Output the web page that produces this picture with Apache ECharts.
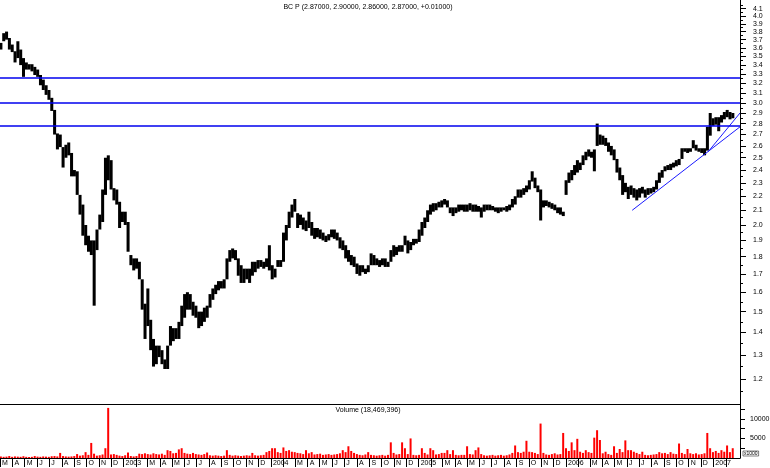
<!DOCTYPE html>
<html><head><meta charset="utf-8">
<script src="https://cdn.jsdelivr.net/npm/echarts@6/dist/echarts.min.js"></script>
<style>html,body{margin:0;padding:0;background:#fff}#c{width:770px;height:468px}</style>
</head><body><div id="c"></div>
<script>
// ---- data (weekly samples) ----
const firstWeek = [2002, 2, 3];          // date of first weekly sample (Y, month0, D)
const axisStart = [2002, 2, 1];
const axisEnd = [2007, 2, 8];
const priceHigh = [3.66,3.78,3.80,3.72,3.64,3.56,3.68,3.58,3.48,3.43,3.41,3.41,3.38,3.35,3.29,3.24,3.18,3.13,3.05,2.93,
2.71,2.70,2.59,2.61,2.63,2.54,2.40,2.39,2.21,2.14,2.00,1.93,1.90,1.90,1.97,2.07,2.25,2.50,2.52,2.48,
2.26,2.25,2.16,2.09,2.09,2.02,1.81,1.79,1.79,1.77,1.67,1.54,1.62,1.46,1.37,1.34,1.34,1.32,1.28,1.34,
1.43,1.42,1.42,1.45,1.53,1.59,1.60,1.59,1.55,1.53,1.50,1.50,1.52,1.53,1.59,1.62,1.64,1.66,1.66,1.67,
1.79,1.84,1.85,1.84,1.79,1.75,1.73,1.73,1.73,1.77,1.77,1.78,1.78,1.77,1.79,1.87,1.75,1.73,1.78,1.78,
1.95,2.00,2.09,2.14,2.18,2.08,2.07,2.05,2.03,2.09,2.02,1.98,1.98,1.97,1.95,1.93,1.94,1.97,1.97,1.95,
1.92,1.90,1.87,1.84,1.81,1.80,1.76,1.75,1.75,1.73,1.75,1.82,1.81,1.79,1.78,1.79,1.79,1.77,1.84,1.87,
1.86,1.87,1.87,1.93,1.90,1.89,1.91,1.91,1.97,2.02,2.05,2.10,2.14,2.15,2.15,2.16,2.17,2.18,2.17,2.12,
2.12,2.12,2.14,2.14,2.14,2.14,2.15,2.14,2.14,2.13,2.12,2.14,2.14,2.14,2.13,2.12,2.12,2.12,2.12,2.13,
2.14,2.18,2.20,2.25,2.25,2.26,2.28,2.32,2.39,2.34,2.28,2.25,2.17,2.17,2.16,2.15,2.14,2.12,2.12,2.09,
2.32,2.38,2.40,2.44,2.48,2.46,2.52,2.55,2.57,2.55,2.57,2.80,2.70,2.69,2.67,2.63,2.60,2.57,2.49,2.42,
2.36,2.30,2.27,2.28,2.26,2.25,2.26,2.27,2.25,2.26,2.26,2.27,2.32,2.38,2.40,2.43,2.44,2.45,2.46,2.48,
2.49,2.58,2.58,2.58,2.58,2.65,2.61,2.58,2.58,2.58,2.77,2.90,2.85,2.86,2.86,2.88,2.91,2.93,2.91,2.90];
const priceLow = [3.58,3.68,3.70,3.58,3.55,3.43,3.48,3.40,3.27,3.35,3.35,3.33,3.29,3.27,3.18,3.13,3.08,3.03,2.92,2.70,
2.57,2.59,2.42,2.50,2.52,2.35,2.35,2.21,2.07,1.93,1.87,1.83,1.81,1.53,1.84,1.97,2.02,2.21,2.32,2.25,
2.17,2.14,1.98,2.02,2.00,1.83,1.75,1.72,1.73,1.67,1.51,1.37,1.43,1.32,1.25,1.26,1.29,1.26,1.24,1.24,
1.34,1.36,1.37,1.37,1.43,1.47,1.51,1.51,1.48,1.47,1.42,1.43,1.45,1.47,1.52,1.56,1.59,1.61,1.62,1.62,
1.67,1.77,1.79,1.78,1.69,1.65,1.65,1.67,1.65,1.69,1.71,1.73,1.74,1.73,1.74,1.72,1.67,1.68,1.74,1.74,
1.77,1.90,1.98,2.05,2.09,1.98,2.00,1.97,1.96,1.98,1.93,1.91,1.92,1.91,1.90,1.89,1.90,1.92,1.91,1.90,
1.85,1.84,1.79,1.77,1.75,1.74,1.70,1.69,1.71,1.70,1.71,1.75,1.75,1.75,1.74,1.75,1.74,1.74,1.77,1.80,
1.81,1.83,1.83,1.87,1.82,1.84,1.87,1.88,1.89,1.93,1.98,2.02,2.07,2.09,2.10,2.12,2.12,2.14,2.12,2.08,
2.06,2.08,2.09,2.10,2.09,2.09,2.10,2.09,2.09,2.09,2.05,2.09,2.10,2.10,2.10,2.09,2.08,2.09,2.10,2.09,
2.10,2.12,2.14,2.19,2.19,2.21,2.23,2.25,2.31,2.26,2.23,2.03,2.12,2.13,2.12,2.11,2.10,2.08,2.07,2.06,
2.21,2.30,2.32,2.36,2.38,2.40,2.44,2.48,2.51,2.50,2.39,2.60,2.61,2.61,2.60,2.55,2.52,2.48,2.38,2.32,
2.21,2.23,2.18,2.21,2.19,2.17,2.19,2.22,2.19,2.21,2.22,2.23,2.25,2.30,2.34,2.39,2.40,2.40,2.42,2.43,
2.44,2.49,2.55,2.54,2.55,2.58,2.56,2.55,2.54,2.52,2.56,2.69,2.78,2.79,2.73,2.81,2.84,2.86,2.84,2.85];
const volume = [400,300,350,500,300,400,350,300,450,300,250,300,500,350,300,400,350,300,450,500,
400,1300,500,400,350,400,500,1000,600,700,1500,800,3850,1100,600,700,900,2500,12800,900,
1000,800,600,500,700,1400,500,400,500,1100,1000,1200,1000,900,1200,1000,900,1100,800,2000,
1800,1200,1300,2200,2500,1300,1100,1000,1300,1000,900,800,1000,1400,700,600,700,600,500,600,
2000,800,600,700,600,500,600,700,600,1300,700,600,700,800,1500,1800,2500,2500,1500,1300,
2700,1800,2000,1600,1500,1300,1200,1000,2000,1200,1500,900,1000,1100,800,900,1000,800,900,1000,
1200,2000,1500,3000,1800,1300,1000,800,700,900,1500,800,700,600,700,800,600,800,4000,1300,
900,1000,4000,2500,1000,5000,800,700,800,2500,1300,900,2500,2000,900,1000,1300,1300,2000,1000,
2000,800,700,800,800,3000,1000,900,2000,2700,1000,700,600,700,800,600,700,800,600,700,
900,1300,3200,1500,1300,1600,4400,1600,1500,1300,1000,8800,1300,900,800,1000,1200,900,1000,6400,
2500,1800,4000,2000,4900,1600,1300,2000,1500,1300,5200,7100,4600,1200,1600,1000,800,3000,1300,2300,
1500,4500,2000,2000,1600,1300,1000,1600,800,700,800,900,1000,1500,1200,1300,1000,1500,1100,1000,
3700,1300,1000,2300,1200,1000,1200,900,1000,1200,6400,2500,1500,1800,1300,2000,1600,3200,1500,2500];
const priceLabelTicks = [1.2,1.3,1.4,1.5,1.6,1.7,1.8,1.9,2.0,2.1,2.2,2.3,2.4,2.5,2.6,2.7,2.8,2.9,3.0,3.1,3.2,3.3,3.4,3.5,3.6,3.7,3.8,3.9,4.0,4.1];
const priceMinorTicks = [1.15,1.25,1.35,1.45,1.55,1.65,1.75,1.85,1.95,2.05,2.15,2.25,2.35,2.45,2.55,2.65,2.75,2.85,2.95,3.05,3.15,3.25,3.35,3.45,3.55,3.65,3.75,3.85,3.95,4.05,4.15];
const volumeLabelTicks = [5000, 10000];
const volumeMinorTicks = [2500, 5000, 7500, 10000, 12500];
const monthLetters = ['', '', 'M', 'A', 'M', 'J', 'J', 'A', 'S', 'O', 'N', 'D']; // Jan shows the year
const lastMonth = [2007, 1, 1];   // last month tick (Feb 2007)
const horizontalLevels = [3.26, 3.00, 2.78];
const trendLines = [
  { from: [2006, 5, 14], fromPrice: 2.10, to: [2007, 2, 8], toPrice: 2.77 },
  { from: [2006, 11, 19], fromPrice: 2.55, to: [2007, 2, 8], toPrice: 2.90 }
];
const titleText = 'BC P (2.87000, 2.90000, 2.86000, 2.87000, +0.01000)';
const volumeTitle = 'Volume (18,469,396)';
const volumeUnit = 'x1000';

// ---- build ----
const DAY = 86400000;
const ts = a => new Date(a[0], a[1], a[2]).getTime();
const xMin = ts(axisStart), xMax = ts(axisEnd), lastTick = ts(lastMonth);
const weekTime = i => new Date(firstWeek[0], firstWeek[1], firstWeek[2] + 7 * i).getTime();
const priceData = priceHigh.map((h, i) => [weekTime(i), h, priceLow[i]]);
const volData = volume.map((v, i) => [weekTime(i), v]);
const monthTicks = [];
for (let y = 2002; y <= 2007; y++) for (let m = 0; m < 12; m++) {
  const t = new Date(y, m, 1).getTime();
  if (t >= xMin && t <= lastTick) monthTicks.push(t);
}
const FONT = 'Liberation Sans';
const chart = echarts.init(document.getElementById('c'), null, { renderer: 'canvas' });
const trendSeries = trendLines.map(tl => ({
  type: 'line', xAxisIndex: 0, yAxisIndex: 0, silent: true, symbol: 'none', clip: true,
  data: [[ts(tl.from), tl.fromPrice], [ts(tl.to), tl.toPrice]],
  lineStyle: { color: '#1a1aff', width: 1 }, z: 3
}));
chart.setOption({
  animation: false,
  backgroundColor: '#ffffff',
  textStyle: { fontFamily: FONT },
  grid: [
    { left: 0, right: 30, top: 0, height: 404, outerBoundsMode: 'none', containLabel: false },
    { left: 0, right: 30, top: 404, height: 54, outerBoundsMode: 'none', containLabel: false }
  ],
  xAxis: [
    { type: 'value', gridIndex: 0, min: xMin, max: xMax, scale: true,
      axisLine: { show: true, onZero: false, lineStyle: { color: '#000', width: 1 } },
      axisTick: { show: false }, axisLabel: { show: false }, splitLine: { show: false } },
    { type: 'value', gridIndex: 1, min: xMin, max: xMax, scale: true,
      axisLine: { show: true, onZero: false, lineStyle: { color: '#000', width: 1 } },
      axisTick: { show: true, customValues: monthTicks, length: 9, inside: false, lineStyle: { color: '#000' } },
      axisLabel: { show: true, customValues: monthTicks, hideOverlap: false, showMinLabel: true, showMaxLabel: true,
        align: 'left', margin: 2, padding: [0, 0, 0, 2], fontSize: 7, color: '#000', fontFamily: FONT,
        formatter: v => { const d = new Date(v); return d.getMonth() === 0 ? String(d.getFullYear()) : monthLetters[d.getMonth()]; } },
      splitLine: { show: false } }
  ],
  yAxis: [
    { type: 'log', gridIndex: 0, position: 'right', min: 1.104, max: 4.22, logBase: 10,
      axisLine: { show: true, lineStyle: { color: '#000' } },
      axisTick: { show: true, customValues: priceLabelTicks, length: 6, lineStyle: { color: '#000' } },
      axisLabel: { show: true, customValues: priceLabelTicks, margin: 13, fontSize: 7, color: '#000', fontFamily: FONT,
        formatter: v => Number(v).toFixed(1) },
      splitLine: { show: false } },
    { type: 'log', gridIndex: 0, position: 'right', min: 1.104, max: 4.22, logBase: 10,
      axisLine: { show: false },
      axisTick: { show: true, customValues: priceMinorTicks, length: 3, lineStyle: { color: '#000' } },
      axisLabel: { show: false }, splitLine: { show: false } },
    { type: 'value', gridIndex: 1, position: 'right', min: 0, max: 13800,
      axisLine: { show: true, lineStyle: { color: '#000' } },
      axisTick: { show: true, customValues: volumeMinorTicks, length: 5, lineStyle: { color: '#000' } },
      axisLabel: { show: true, customValues: volumeLabelTicks, margin: 10, fontSize: 7, color: '#000', fontFamily: FONT,
        formatter: v => String(Math.round(v)) },
      splitLine: { show: false } }
  ],
  series: [
    { type: 'custom', xAxisIndex: 0, yAxisIndex: 0, clip: true, data: priceData,
      encode: { x: 0, y: [1, 2] },
      renderItem: function (params, api) {
        const t = api.value(0);
        const top = api.coord([t, api.value(1)]);
        const bot = api.coord([t, api.value(2)]);
        const l = api.coord([t - 3.5 * DAY, api.value(1)])[0];
        const r = api.coord([t + 3.5 * DAY, api.value(1)])[0];
        return { type: 'rect', shape: { x: l, y: top[1], width: r - l + 0.2, height: Math.max(bot[1] - top[1], 1.5) },
          style: { fill: '#000' } };
      } },
    { type: 'line', xAxisIndex: 0, yAxisIndex: 0, data: [], silent: true,
      markLine: { silent: true, symbol: ['none', 'none'], label: { show: false }, animation: false,
        lineStyle: { color: '#0000ee', width: 1.5, type: 'solid' },
        data: horizontalLevels.map(v => ({ yAxis: v })) } },
    ...trendSeries,
    { type: 'bar', xAxisIndex: 1, yAxisIndex: 2, data: volData, barWidth: 2,
      itemStyle: { color: '#ff0000' } }
  ],
  graphic: [
    { type: 'text', x: 368, y: 4, z: 10, style: { text: titleText, fontSize: 7, fontFamily: FONT, fill: '#000', align: 'center' } },
    { type: 'text', x: 368, y: 407, z: 10, style: { text: volumeTitle, fontSize: 7, fontFamily: FONT, fill: '#000', align: 'center' } },
    { type: 'text', x: 743, y: 451, z: 10, style: { text: volumeUnit, fontSize: 5, fontFamily: FONT, fill: '#000', borderColor: '#000', borderWidth: 0.5, padding: [0, 1] } }
  ]
});
</script>
</body></html>
